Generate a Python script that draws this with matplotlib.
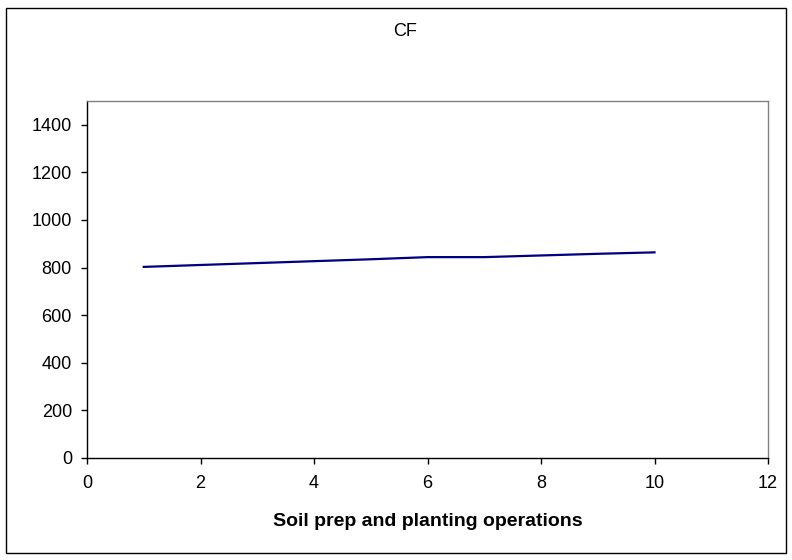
import matplotlib
matplotlib.use("Agg")
import matplotlib.pyplot as plt
from matplotlib.patches import Rectangle

plt.rcParams['font.family'] = ['Liberation Sans', 'DejaVu Sans']

operations = [1, 2, 3, 4, 5, 6, 7, 8, 9, 10]
cf_values = [803, 811, 819, 827, 835, 844, 844, 851, 858, 864]
x_ticks = [0, 2, 4, 6, 8, 10, 12]
y_ticks = [0, 200, 400, 600, 800, 1000, 1200, 1400]

fig = plt.figure(figsize=(7.92, 5.6), dpi=100)
fig.patch.set_facecolor('white')
fig.patches.append(Rectangle((6/792, 7/560), 780/792, 545/560, transform=fig.transFigure,
                             fill=False, edgecolor='black', linewidth=1.0))

ax = fig.add_axes([87/792, 1 - 458/560, (768 - 87)/792, (458 - 101)/560])
ax.plot(operations, cf_values, color='#000080', linewidth=1.6)

ax.set_xlim(0, 12)
ax.set_ylim(0, 1500)
ax.set_xticks(x_ticks)
ax.set_yticks(y_ticks)
ax.tick_params(axis='both', direction='out', length=4.3, width=1, labelsize=13, colors='black')
ax.tick_params(axis='y', pad=6.5)
ax.tick_params(axis='x', pad=8)
for s in ['top', 'right']:
    ax.spines[s].set_color('#808080')
    ax.spines[s].set_linewidth(1.0)
for s in ['left', 'bottom']:
    ax.spines[s].set_color('black')
    ax.spines[s].set_linewidth(1.0)

fig.text(428/792, 1 - 521/560, 'Soil prep and planting operations', ha='center', va='center',
         fontsize=14, fontweight='bold')
fig.text(405/792, 1 - 31.5/560, 'CF', ha='center', va='center', fontsize=13)

fig.savefig('out.png', dpi=100)
